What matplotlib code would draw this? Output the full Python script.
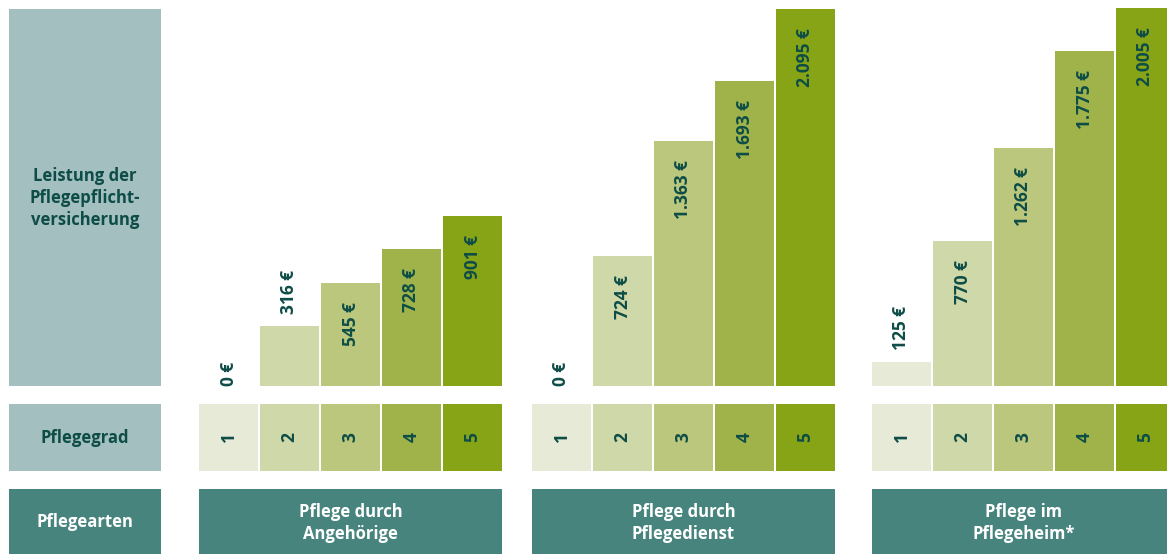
import matplotlib.pyplot as plt
from matplotlib.patches import Rectangle

# Daten
pflegegrade = ['1', '2', '3', '4', '5']
angehoerige = [0, 316, 545, 728, 901]
pflegedienst = [0, 724, 1363, 1693, 2095]
pflegeheim = [125, 770, 1262, 1775, 2005]
labels_angehoerige = ['0 €', '316 €', '545 €', '728 €', '901 €']
labels_pflegedienst = ['0 €', '724 €', '1.363 €', '1.693 €', '2.095 €']
labels_pflegeheim = ['125 €', '770 €', '1.262 €', '1.775 €', '2.005 €']
pflegearten = ['Pflege durch\nAngehörige', 'Pflege durch\nPflegedienst', 'Pflege im\nPflegeheim*']

farben = ['#e6ead6', '#cfd8a8', '#bac77c', '#9fb34a', '#87a416']
hell = '#a4bfbf'
dunkel = '#46847d'
textfarbe = '#0e4d47'

plt.rcParams['font.family'] = ['Open Sans', 'DejaVu Sans']

W, H = 1167, 554
fig = plt.figure(figsize=(W / 100, H / 100), dpi=100)


def box(x0, y0, x1, y1):
    # Pixelkoordinaten (oben links) -> Figure-Koordinaten
    return [x0 / W, 1 - y1 / H, (x1 - x0) / W, (y1 - y0) / H]


def rechteck(x0, y0, x1, y1, farbe):
    l, b, w, h = box(x0, y0, x1, y1)
    fig.add_artist(Rectangle((l, b), w, h, transform=fig.transFigure,
                             facecolor=farbe, edgecolor='none'))


# linke Spalte
rechteck(9, 9, 161, 386, hell)
rechteck(9, 404, 161, 471, hell)
rechteck(9, 489, 161, 560, dunkel)
fig.text(85 / W, 1 - 198 / H, 'Leistung der\nPflegepflicht-\nversicherung', ha='center', va='center',
         fontsize=12, fontweight='bold', color=textfarbe, linespacing=1.3)
fig.text(85 / W, 1 - 438 / H, 'Pflegegrad', ha='center', va='center',
         fontsize=12, fontweight='bold', color=textfarbe)
fig.text(85 / W, 1 - 522 / H, 'Pflegearten', ha='center', va='center',
         fontsize=12, fontweight='bold', color='white')

gruppen = [
    (198, angehoerige, labels_angehoerige, 2000),
    (531, pflegedienst, labels_pflegedienst, 2095),
    (871, pflegeheim, labels_pflegeheim, 2000),
]

x = range(len(pflegegrade))
for i, (links, werte, labels, ymax) in enumerate(gruppen):
    rechts = links + 5 * 61
    # Balken
    ax = fig.add_axes(box(links, 9, rechts, 386))
    ax.bar(x, werte, width=59 / 61, color=farben, clip_on=False)
    ax.set_xlim(-0.5, 4.5)
    ax.set_ylim(0, ymax)
    ax.axis('off')
    for xi, wert, lab in zip(x, werte, labels):
        if wert >= 500:
            ax.annotate(lab, (xi, wert), xytext=(0, -19), textcoords='offset pixels',
                        rotation=90, ha='center', va='top', fontsize=12.5,
                        fontweight='bold', color=textfarbe, annotation_clip=False)
        else:
            versatz = 12 if wert > 0 else 0
            ax.annotate(lab, (xi, wert), xytext=(0, versatz), textcoords='offset pixels',
                        rotation=90, ha='center', va='bottom', fontsize=12.5,
                        fontweight='bold', color=textfarbe, annotation_clip=False)

    # Pflegegrad-Zeile
    ax2 = fig.add_axes(box(links, 404, rechts, 471))
    ax2.bar(x, [1] * 5, width=59 / 61, color=farben)
    ax2.set_xlim(-0.5, 4.5)
    ax2.set_ylim(0, 1)
    ax2.axis('off')
    for xi, grad in zip(x, pflegegrade):
        ax2.text(xi, 0.5, grad, rotation=90, ha='center', va='center',
                 fontsize=12.5, fontweight='bold', color=textfarbe)

    # Pflegearten
    rechteck(links + 1, 489, rechts - 1, 560, dunkel)
    fig.text((links + rechts) / 2 / W, 1 - 523 / H, pflegearten[i], ha='center', va='center',
             fontsize=12, fontweight='bold', color='white', linespacing=1.35)

fig.savefig('out.png', dpi=100)
